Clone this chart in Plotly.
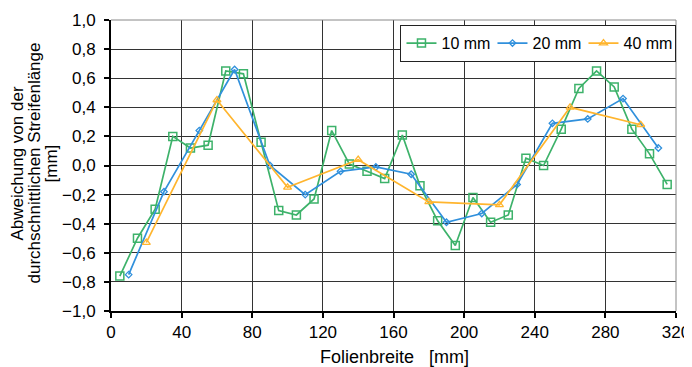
import plotly.graph_objects as go

x10 = [5, 15, 25, 35, 45, 55, 65, 75, 85, 95, 105, 115, 125, 135, 145, 155,
       165, 175, 185, 195, 205, 215, 225, 235, 245, 255, 265, 275, 285, 295, 305, 315]
y10 = [-0.76, -0.50, -0.30, 0.20, 0.12, 0.14, 0.65, 0.63, 0.16, -0.31, -0.34, -0.23, 0.24, 0.01, -0.04, -0.09,
       0.21, -0.14, -0.38, -0.55, -0.22, -0.39, -0.34, 0.05, 0.00, 0.25, 0.53, 0.65, 0.54, 0.25, 0.08, -0.13]

x20 = [10, 30, 50, 70, 90, 110, 130, 150, 170, 190, 210, 230, 250, 270, 290, 310]
y20 = [-0.75, -0.18, 0.24, 0.66, 0.00, -0.20, -0.04, -0.01, -0.06, -0.39, -0.33, -0.13, 0.29, 0.32, 0.46, 0.12]

x40 = [20, 60, 100, 140, 180, 220, 260, 300]
y40 = [-0.53, 0.45, -0.15, 0.04, -0.25, -0.27, 0.40, 0.28]

x_ticks = [0, 40, 80, 120, 160, 200, 240, 280, 320]
y_ticks = [-1.0, -0.8, -0.6, -0.4, -0.2, 0.0, 0.2, 0.4, 0.6, 0.8, 1.0]

green = "#3DB26A"
blue = "#3090DC"
orange = "#FFB52E"

fig = go.Figure()
fig.add_trace(go.Scatter(x=x10, y=y10, name="10 mm", mode="lines+markers",
                         line=dict(color=green, width=1.7),
                         marker=dict(symbol="square-open", size=8, color=green, line=dict(width=1.5))))
fig.add_trace(go.Scatter(x=x20, y=y20, name="20 mm", mode="lines+markers",
                         line=dict(color=blue, width=1.7),
                         marker=dict(symbol="diamond-open", size=5, color=blue, line=dict(width=1.3))))
fig.add_trace(go.Scatter(x=x40, y=y40, name="40 mm", mode="lines+markers",
                         line=dict(color=orange, width=1.7),
                         marker=dict(symbol="triangle-up-open", size=7, color=orange, line=dict(width=1.3))))

font = "Liberation Sans, Arial, sans-serif"

# page body has an 8px margin, so the figure is 8px smaller and offset
fig.update_layout(
    width=684, height=359,
    margin=dict(l=103, r=16, t=12, b=56, autoexpand=False),
    paper_bgcolor="white", plot_bgcolor="white",
    separators=", ",
    font=dict(family=font, size=17, color="black"),
    showlegend=True,
    legend=dict(orientation="h", x=0.512, y=0.983, xanchor="left", yanchor="top",
                bgcolor="white", bordercolor="#222222", borderwidth=1.2,
                font=dict(size=16), itemwidth=30, tracegroupgap=0,
                entrywidth=46, entrywidthmode="pixels"),
    xaxis=dict(range=[0, 320], tickvals=x_ticks, ticktext=[str(v) for v in x_ticks],
               showgrid=True, gridcolor="#333333", gridwidth=1,
               showline=True, linecolor="black", linewidth=2, mirror=False,
               ticks="outside", ticklen=5, tickwidth=2, tickcolor="black",
               zeroline=False, title=None, tickfont=dict(size=17), automargin=False),
    yaxis=dict(range=[-1.0, 1.0], tickvals=y_ticks, tickformat=".1f",
               showgrid=True, gridcolor="#333333", gridwidth=1,
               showline=True, linecolor="black", linewidth=2,
               ticks="outside", ticklen=5, tickwidth=2, tickcolor="black",
               ticklabelstandoff=5,
               zeroline=False, title=None, tickfont=dict(size=17), automargin=False),
    shapes=[
        dict(type="line", xref="paper", yref="paper", x0=0, x1=1, y0=1, y1=1,
             line=dict(color="#888888", width=1)),
        dict(type="line", xref="paper", yref="paper", x0=1, x1=1, y0=0, y1=1,
             line=dict(color="#888888", width=1)),
    ],
    annotations=[
        dict(text="Folienbreite   [mm]", xref="paper", yref="paper", x=0.5025, y=0,
             yshift=-46, xanchor="center", yanchor="middle", showarrow=False,
             font=dict(size=18)),
        dict(text="Abweichung von der", xref="paper", yref="paper", x=0, y=0.5,
             xshift=-94, yshift=2, textangle=-90, xanchor="center", yanchor="middle",
             showarrow=False, font=dict(size=17)),
        dict(text="durchschnittlichen Streifenlänge", xref="paper", yref="paper", x=0, y=0.5,
             xshift=-77, yshift=2, textangle=-90, xanchor="center", yanchor="middle",
             showarrow=False, font=dict(size=17)),
        dict(text="[mm]", xref="paper", yref="paper", x=0, y=0.5,
             xshift=-60, yshift=2, textangle=-90, xanchor="center", yanchor="middle",
             showarrow=False, font=dict(size=17)),
    ],
)

fig.write_html("out.html")
